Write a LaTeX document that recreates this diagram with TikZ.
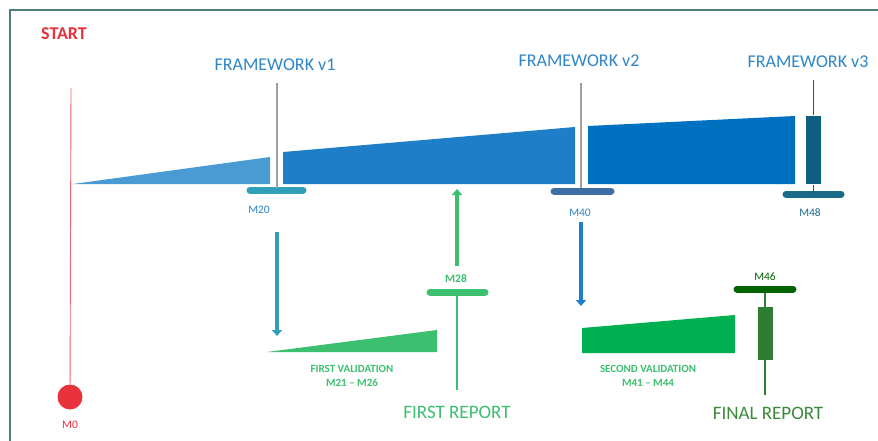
\documentclass[tikz,border=0pt]{standalone}
\usepackage{fontspec}
\setmainfont{Carlito}
\usetikzlibrary{arrows.meta}
\definecolor{frame}{HTML}{4F7F7F}
\definecolor{startred}{HTML}{E8323C}
\definecolor{fwblue}{HTML}{2E86C8}
\definecolor{tri1}{HTML}{4A9BD4}
\definecolor{tri2}{HTML}{1E7FC8}
\definecolor{tri3}{HTML}{0070C0}
\definecolor{v3rect}{HTML}{0F6080}
\definecolor{mteal}{HTML}{30A0B8}
\definecolor{msteel}{HTML}{3D6FA5}
\definecolor{mdark}{HTML}{1B6A87}
\definecolor{gline}{HTML}{A0A0A0}
\definecolor{lgreen}{HTML}{3CC070}
\definecolor{vgreen}{HTML}{00B050}
\definecolor{dgreen}{HTML}{006400}
\definecolor{fgreen}{HTML}{2E7D32}
\definecolor{rgreen}{HTML}{3A8A3A}
\begin{document}
\begin{tikzpicture}[x=1pt,y=-1pt,
  fw/.style={text=fwblue,font=\fontsize{18}{20}\selectfont,inner sep=0pt},
  mlab/.style={font=\fontsize{11.5}{12}\selectfont,inner sep=0pt},
  vlab/.style={font=\bfseries\fontsize{11}{14.5}\selectfont,inner sep=0pt,align=center,text=lgreen},
  mbar/.style={line width=7pt,line cap=round},
  rep/.style={font=\fontsize{19}{21}\selectfont,inner sep=0pt}]
\useasboundingbox (0,0) rectangle (878,441);
\fill[white] (0,0) rectangle (878,441);
% frame
\draw[frame,line width=2pt] (10,441) -- (10,10) -- (878,10);
% start
\node[text=startred,font=\bfseries\fontsize{18}{20}\selectfont,inner sep=0pt] (start) at (64,34) {START};
\coordinate (m0top) at (71,88);
\node[circle,fill=startred,minimum size=25pt,inner sep=0pt] (m0) at (70,397) {};
\draw[startred!75,line width=0.9pt] (m0top) -- (m0);
\node[mlab,text=startred] (m0l) at (70,425) {M0};
% blue bars
\fill[tri1] (73,184) -- (270,157) -- (270,184) -- cycle;
\fill[tri2] (283,152) -- (575,127) -- (575,184) -- (283,184) -- cycle;
\fill[tri3] (588,126) -- (795,116) -- (795,184) -- (588,184) -- cycle;
% framework labels
\node[fw] (fw1) at (275,65) {FRAMEWORK v1};
\node[fw] (fw2) at (579,61) {FRAMEWORK v2};
\node[fw] (fw3) at (808,62) {FRAMEWORK v3};
% milestones
\coordinate (m20a) at (250,190); \coordinate (m20b) at (303,190);
\draw[mbar,mteal] (m20a) -- (m20b);
\node[mlab,text=fwblue] (m20) at (259,210) {M20};
\coordinate (m40a) at (554,191); \coordinate (m40b) at (611,191);
\draw[mbar,msteel] (m40a) -- (m40b);
\node[mlab,text=fwblue] (m40) at (580,213) {M40};
\coordinate (m48a) at (786,194); \coordinate (m48b) at (841,194);
\draw[mbar,mdark] (m48a) -- (m48b);
\node[mlab,text=mdark] (m48) at (810,213) {M48};
% gray lines
\coordinate (g1t) at (277,83); \coordinate (g1b) at (277,188);
\draw[gline,line width=1.2pt] (g1t) -- (g1b);
\coordinate (g2t) at (581,83); \coordinate (g2b) at (581,188);
\draw[gline,line width=1.2pt] (g2t) -- (g2b);
% v3 marker
\coordinate (v3t) at (813,80); \coordinate (v3b) at (813,193);
\draw[v3rect,line width=1pt] (v3t) -- (v3b);
\node[fill=v3rect,draw=white,line width=0.6pt,minimum width=16pt,minimum height=69pt,inner sep=0pt] (v3r) at (813,150) {};
% arrows
\coordinate (a1s) at (277,232); \coordinate (a1e) at (277,336);
\draw[mteal,line width=4pt,-{Triangle[width=10pt,length=6pt]}] (a1s) -- (a1e);
\coordinate (a2s) at (581,222); \coordinate (a2e) at (581,306);
\draw[tri2,line width=4pt,-{Triangle[width=10pt,length=6pt]}] (a2s) -- (a2e);
\coordinate (a3s) at (457,266); \coordinate (a3e) at (457,189);
\draw[lgreen,line width=4pt,-{Triangle[width=10pt,length=6pt]}] (a3s) -- (a3e);
% M28
\coordinate (m28a) at (430,292); \coordinate (m28b) at (485,292);
\coordinate (fr) at (457,390);
\draw[lgreen,line width=1.2pt] (m28a-|fr) -- (fr);
\draw[mbar,lgreen] (m28a) -- (m28b);
\node[mlab,font=\bfseries\fontsize{11.5}{12}\selectfont,text=lgreen] (m28) at (456,279) {M28};
% validation shapes
\fill[lgreen] (267,352) -- (437,330) -- (437,352) -- cycle;
\fill[vgreen] (582,328) -- (735,315) -- (735,353) -- (582,353) -- cycle;
\node[vlab] (v1) at (352,376) {FIRST VALIDATION\\M21 -- M26};
\node[vlab] (v2) at (648,376) {SECOND VALIDATION\\M41 -- M44};
% M46
\coordinate (m46a) at (737,289); \coordinate (m46b) at (793,289);
\coordinate (frr) at (765,395);
\draw[fgreen,line width=1.2pt] (m46a-|frr) -- (frr);
\draw[mbar,dgreen] (m46a) -- (m46b);
\node[mlab,text=dgreen] (m46) at (765,277) {M46};
\node[fill=fgreen,minimum width=15pt,minimum height=53pt,inner sep=0pt] (fbox) at (765,333) {};
% reports
\node[rep,text=lgreen] (r1) at (457,412) {FIRST REPORT};
\node[rep,text=rgreen] (r2) at (768,413) {FINAL REPORT};
\end{tikzpicture}
\end{document}
